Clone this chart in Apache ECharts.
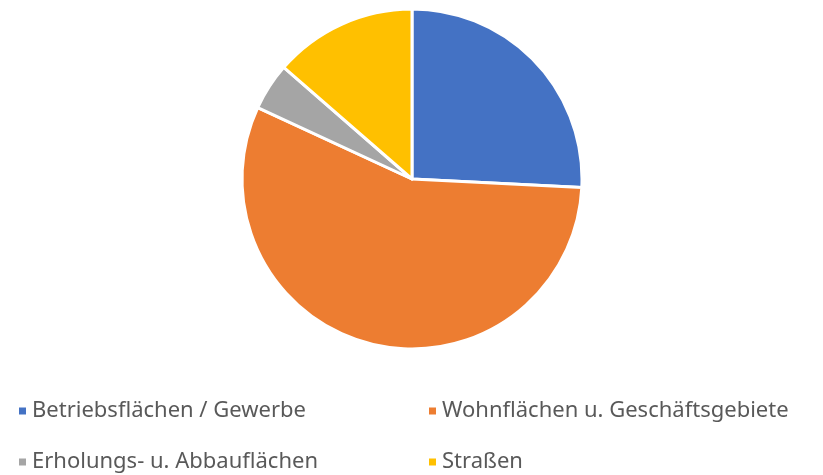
<!DOCTYPE html>
<html>
<head>
<meta charset="utf-8">
<script src="https://cdn.jsdelivr.net/npm/echarts@6/dist/echarts.min.js"></script>
<style>
  html, body { margin: 0; padding: 0; background: #fff; }
  #chart { width: 823px; height: 475px; }
</style>
</head>
<body>
<div id="chart"></div>
<script>
// ── Данные ───────────────────────────────────────────────
var categories = [
  'Betriebsflächen / Gewerbe',
  'Wohnflächen u. Geschäftsgebiete',
  'Erholungs- u. Abbauflächen',
  'Straßen'
];
var values = [25.8, 56.1, 4.5, 13.6];
var colors = ['#4472c4', '#ed7d31', '#a5a5a5', '#ffc000'];

var chart = echarts.init(document.getElementById('chart'));

var legendText = { color: '#595959', fontSize: 22, fontFamily: 'Noto Sans' };

chart.setOption({
  animation: false,
  color: colors,
  legend: [{
    orient: 'vertical',
    left: 17,
    top: 400,
    height: 100,
    padding: 0,
    itemGap: 29,
    icon: 'rect',
    itemWidth: 9,
    itemHeight: 9,
    textStyle: legendText,
    data: [categories[0], categories[2]]
  }, {
    orient: 'vertical',
    left: 427,
    top: 400,
    height: 100,
    padding: 0,
    itemGap: 29,
    icon: 'rect',
    itemWidth: 9,
    itemHeight: 9,
    textStyle: legendText,
    data: [categories[1], categories[3]]
  }],
  series: [{
    type: 'pie',
    center: [412, 179],
    radius: [0, 170],
    startAngle: 90,
    label: { show: false },
    labelLine: { show: false },
    itemStyle: { borderColor: '#fff', borderWidth: 3 },
    data: categories.map(function (name, i) {
      return { name: name, value: values[i] };
    })
  }]
});
</script>
</body>
</html>
